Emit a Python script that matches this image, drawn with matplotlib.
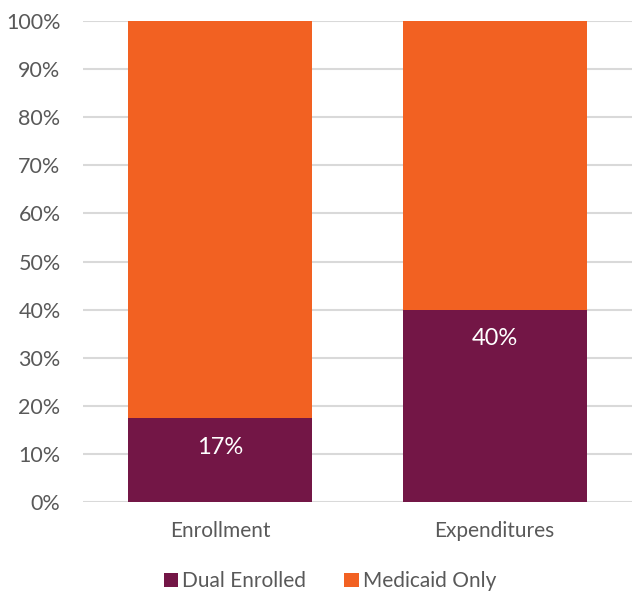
import matplotlib.pyplot as plt
from matplotlib.ticker import FuncFormatter

plt.rcParams['font.family'] = ['Lato', 'DejaVu Sans']

# Data
categories = ['Enrollment', 'Expenditures']
dual_enrolled = [17.4, 40.0]
medicaid_only = [82.6, 60.0]
dual_labels = ['17%', '40%']

purple = '#731646'
orange = '#F26122'
grey_text = '#595959'

fig = plt.figure(figsize=(6.32, 5.92), dpi=100)
ax = fig.add_axes([0.131, 0.152, 0.869, 0.8125])

x = range(len(categories))
ax.bar(x, dual_enrolled, width=0.67, color=purple, label='Dual Enrolled', zorder=3)
ax.bar(x, medicaid_only, width=0.67, bottom=dual_enrolled, color=orange,
       label='Medicaid Only', zorder=3)

for i, (v, lab) in enumerate(zip(dual_enrolled, dual_labels)):
    ax.annotate(lab, (i, v), xytext=(0, -21), textcoords='offset points',
                ha='center', va='center', color='white', fontsize=17, zorder=4)

ax.set_xlim(-0.5, 1.5)
ax.set_ylim(0, 100)
ax.set_yticks(range(0, 101, 10))
ax.yaxis.set_major_formatter(FuncFormatter(lambda v, p: f'{v:.0f}%'))
ax.set_xticks(list(x))
ax.set_xticklabels(categories)
ax.grid(axis='y', color='#d9d9d9', linewidth=1.5, zorder=0)
for s in ax.spines.values():
    s.set_visible(False)
ax.tick_params(axis='y', length=0, labelsize=15.5, labelcolor=grey_text, pad=16)
ax.tick_params(axis='x', length=0, labelsize=15, labelcolor=grey_text, pad=14)

ax.legend(loc='upper center', bbox_to_anchor=(0.45, -0.105), ncol=2, frameon=False,
          fontsize=15, labelcolor=grey_text, handlelength=0.7, handleheight=0.7,
          handletextpad=0.2, columnspacing=1.8)

fig.savefig('out.png', dpi=100)
